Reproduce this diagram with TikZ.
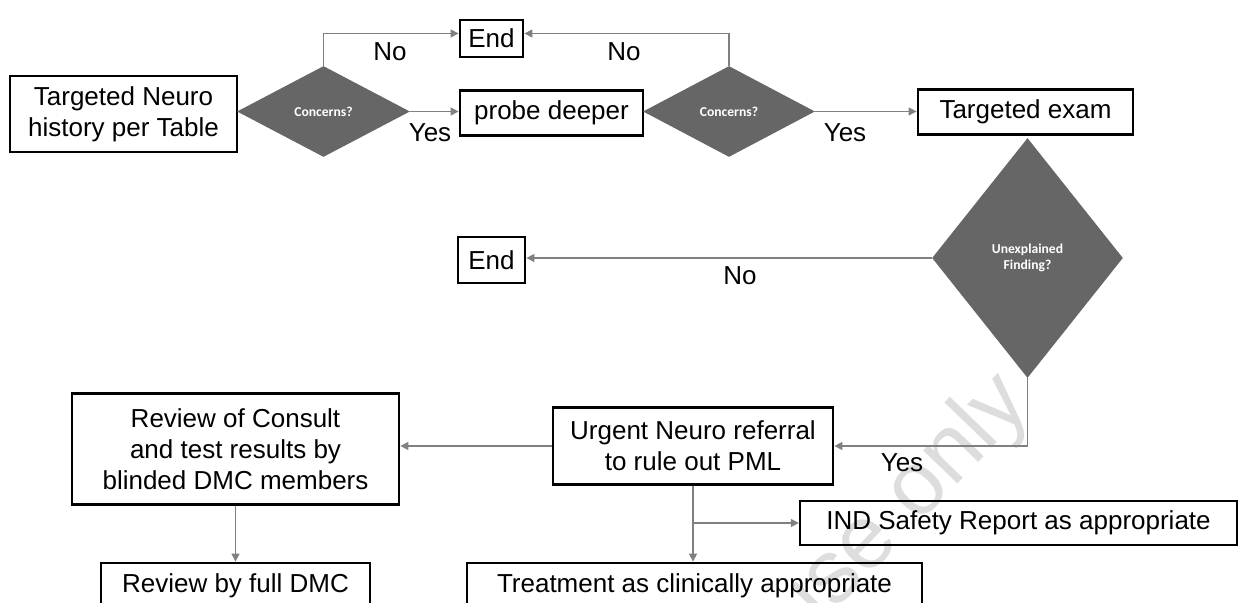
\documentclass[tikz,border=0pt]{standalone}
\usepackage{fontspec}
\setmainfont{Liberation Sans}
\newfontfamily\dfont{Carlito}
\usetikzlibrary{shapes.geometric,arrows.meta}
\definecolor{dgray}{HTML}{666666}
\definecolor{lgray}{HTML}{808080}
\definecolor{wmark}{HTML}{DDDDDD}
\tikzset{
  box/.style={draw=black, line width=1.4pt, inner sep=0pt, align=center,
    font=\fontsize{13}{15.5}\selectfont},
  dec/.style={diamond, fill=dgray, draw=none, inner sep=0pt, align=center,
    text=white, font=\dfont\bfseries\fontsize{6.8}{7.8}\selectfont},
  conn/.style={draw=lgray, line width=0.7pt, -{Triangle[length=4pt,width=4pt]}},
  lab/.style={font=\fontsize{13}{15.5}\selectfont, inner sep=0pt}
}
\begin{document}
\begin{tikzpicture}[x=0.5pt,y=-0.5pt]
\useasboundingbox (0,0) rectangle (1244,603);
\clip (0,0) rectangle (1244,603);
% watermark
\node[text=wmark, rotate=46, font=\fontsize{45}{50}\selectfont, inner sep=0pt] (wm) at (900,510) {use only};
% nodes
\node[box, minimum width=113.5pt, minimum height=38pt] (hist) at (123.5,114) {Targeted Neuro\\history per Table};
\node[dec, minimum width=86.5pt, minimum height=45.5pt] (d1) at (323.5,111.5) {Concerns?};
\node[box, minimum width=31.5pt, minimum height=18.5pt] (end1) at (491.5,38.5) {End};
\node[box, minimum width=91.5pt, minimum height=22.5pt] (probe) at (551.5,113) {probe deeper};
\node[dec, minimum width=86pt, minimum height=45.5pt] (d2) at (729,111.5) {Concerns?};
\node[box, minimum width=107.5pt, minimum height=22.5pt] (exam) at (1025.5,112) {Targeted exam};
\node[dec, minimum width=95.5pt, minimum height=120pt] (d3) at (1027.5,258) {Unexplained\\Finding?};
\node[box, minimum width=33.5pt, minimum height=23pt] (end2) at (491.5,260) {End};
\node[box, minimum width=140pt, minimum height=38.5pt] (urgent) at (693,446) {Urgent Neuro referral\\to rule out PML};
\node[box, minimum width=163.5pt, minimum height=55.5pt] (review) at (235.5,449) {Review of Consult\\and test results by\\blinded DMC members};
\node[box, minimum width=134.5pt, minimum height=23pt] (full) at (235.5,586) {Review by full DMC};
\node[box, minimum width=227.5pt, minimum height=23pt] (treat) at (694.5,586) {Treatment as clinically appropriate};
\node[box, line width=1.2pt, minimum width=218.5pt, minimum height=22pt] (ind) at (1018.5,523) {IND Safety Report as appropriate};
% connectors
\draw[conn] (d1.north) |- ([yshift=2.5pt]end1.west);
\draw[conn] (d1.east) -- (d1.east -| probe.west);
\draw[conn] (d2.north) |- ([yshift=2.5pt]end1.east);
\draw[conn] (d2.east) -- (d2.east -| exam.west);
\draw[conn] (d3.west) -- (d3.west -| end2.east);
\draw[conn] (d3.south) |- (urgent.east);
\draw[conn] (urgent.west) -- (urgent.west -| review.east);
\draw[conn] (review.south) -- (full.north);
\draw[conn] (urgent.south) -- (urgent.south |- treat.north);
\coordinate (br) at (urgent.south |- ind.west);
\draw[conn] (br) -- (ind.west);
% labels
\node[lab] (l1) at (390,52) {No};
\node[lab] (l2) at (624,52) {No};
\node[lab] (l3) at (430,133) {Yes};
\node[lab] (l4) at (845,133) {Yes};
\node[lab] (l5) at (740,276) {No};
\node[lab] (l6) at (902,463) {Yes};
\end{tikzpicture}
\end{document}
